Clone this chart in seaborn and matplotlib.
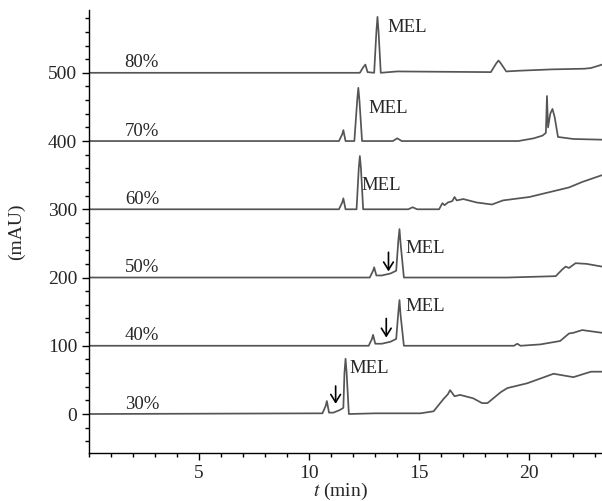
import pandas as pd
import seaborn as sns
import matplotlib.pyplot as plt
from matplotlib.ticker import MultipleLocator

# chromatogram traces (t in min, signal in mAU above each baseline)
t80 = [0, 12.3, 12.45, 12.55, 12.65, 12.95, 13.05, 13.1, 13.15, 13.25, 14.0, 18.25, 18.5, 18.6, 18.7, 18.95, 19.5, 21.0, 22.5, 22.8, 23.3]
s80 = [0, 0, 8, 12, 1, 0, 60, 82, 60, 0, 2, 1, 14, 18, 14, 2, 3, 5, 6, 7, 12]

t70 = [0, 11.35, 11.5, 11.55, 11.65, 12.05, 12.18, 12.23, 12.28, 12.4, 13.8, 14.0, 14.2, 19.5, 20.2, 20.6, 20.75, 20.8, 20.85, 20.95, 21.05, 21.15, 21.3, 22.0, 23.3]
s70 = [0, 0, 10, 16, 0, 0, 60, 78, 60, 0, 0, 4, 0, 0, 4, 8, 12, 66, 20, 40, 47, 35, 6, 3, 2]

t60 = [0, 11.35, 11.5, 11.55, 11.65, 12.15, 12.25, 12.3, 12.35, 12.45, 14.5, 14.7, 14.9, 15.9, 16.05, 16.15, 16.3, 16.5, 16.6, 16.7, 17.0, 17.6, 18.3, 18.8, 20.0, 20.9, 21.8, 22.4, 23.3]
s60 = [0, 0, 10, 16, 0, 0, 60, 78, 60, 0, 0, 3, 0, 0, 9, 6, 10, 12, 18, 13, 15, 10, 7, 13, 18, 25, 32, 40, 50]

t50 = [0, 12.75, 12.9, 12.95, 13.05, 13.3, 13.7, 13.95, 14.05, 14.1, 14.15, 14.3, 16.0, 19.0, 21.2, 21.5, 21.65, 21.8, 22.1, 22.6, 23.3]
s50 = [0, 0, 10, 15, 3, 3, 6, 10, 55, 71, 50, 0, 0, 0, 2, 12, 16, 14, 21, 20, 16]

t40 = [0, 12.7, 12.85, 12.9, 13.0, 13.3, 13.7, 13.95, 14.05, 14.1, 14.15, 14.3, 19.3, 19.45, 19.6, 20.5, 21.4, 21.8, 22.0, 22.4, 23.3]
s40 = [0, 0, 10, 16, 3, 3, 6, 10, 50, 67, 45, 0, 0, 3, 0, 2, 7, 18, 19, 23, 19]

t30 = [0, 10.6, 10.75, 10.8, 10.9, 11.1, 11.4, 11.55, 11.6, 11.65, 11.7, 11.8, 13.0, 15.05, 15.65, 16.1, 16.3, 16.4, 16.6, 16.85, 17.45, 17.85, 18.1, 18.7, 19.0, 19.9, 21.1, 22.0, 22.8, 23.3]
s30 = [0, 1, 12, 19, 2, 2, 6, 9, 60, 81, 60, 0, 1, 1, 4, 22, 29, 35, 26, 28, 23, 16, 16, 32, 38, 45, 59, 54, 62, 62]

labels = ["30%", "40%", "50%", "60%", "70%", "80%"]
offsets = [0, 100, 200, 300, 400, 500]
traces = [(t30, s30), (t40, s40), (t50, s50), (t60, s60), (t70, s70), (t80, s80)]

# MEL label positions (t, mAU) and arrows (t, top, bottom)
mel_pos = [(11.85, 66), (14.35, 157), (14.35, 242), (12.35, 335), (12.7, 448), (13.55, 567)]
arrows = [(11.2, 41, 15), (13.5, 140, 112), (13.6, 237, 209)]

frames = []
for lab, off, (t, s) in zip(labels, offsets, traces):
    frames.append(pd.DataFrame({"t": t, "mAU": [v + off for v in s], "conc": lab}))
df = pd.concat(frames, ignore_index=True)

sns.set_style("ticks")
plt.rcParams["font.family"] = ["Liberation Serif", "DejaVu Serif"]
plt.rcParams["mathtext.fontset"] = "stix"

fig = plt.figure(figsize=(6.02, 5.01), dpi=100)
ax = fig.add_axes([0.148, 0.096, 0.852, 0.884])

sns.lineplot(data=df, x="t", y="mAU", hue="conc", units="conc", estimator=None,
             palette=["#555555"] * 6, linewidth=1.25, legend=False, sort=False, ax=ax)

for lab, off in zip(labels, offsets):
    ax.text(2.4, off + 2, lab, ha="center", va="bottom", fontsize=13.5)

for (mt, mv) in mel_pos:
    ax.text(mt, mv, "MEL", ha="left", va="center", fontsize=13.5)

for (at, top, bot) in arrows:
    ax.annotate("", xy=(at, bot), xytext=(at, top),
                arrowprops=dict(arrowstyle="->,head_width=0.25,head_length=0.4",
                                mutation_scale=14, color="black", lw=1.2,
                                shrinkA=0, shrinkB=0))

ax.set_xlim(0, 23.3)
ax.set_ylim(-57, 592)
ax.set_xticks([5, 10, 15, 20])
ax.set_yticks(offsets)
ax.xaxis.set_minor_locator(MultipleLocator(1))
ax.yaxis.set_minor_locator(MultipleLocator(20))
ax.tick_params(which="major", length=5, width=1, labelsize=14, color="black")
ax.tick_params(which="minor", length=3, width=1, color="black")
sns.despine(ax=ax)
for sp in ["left", "bottom"]:
    ax.spines[sp].set_color("black")
    ax.spines[sp].set_linewidth(1)

ax.set_xlabel("$t$ (min)", fontsize=14)
ax.set_ylabel("(mAU)", fontsize=14)
ax.xaxis.set_label_coords(0.49, -0.063)
ax.yaxis.set_label_coords(-0.125, 0.5)

fig.savefig("out.png", dpi=100)
